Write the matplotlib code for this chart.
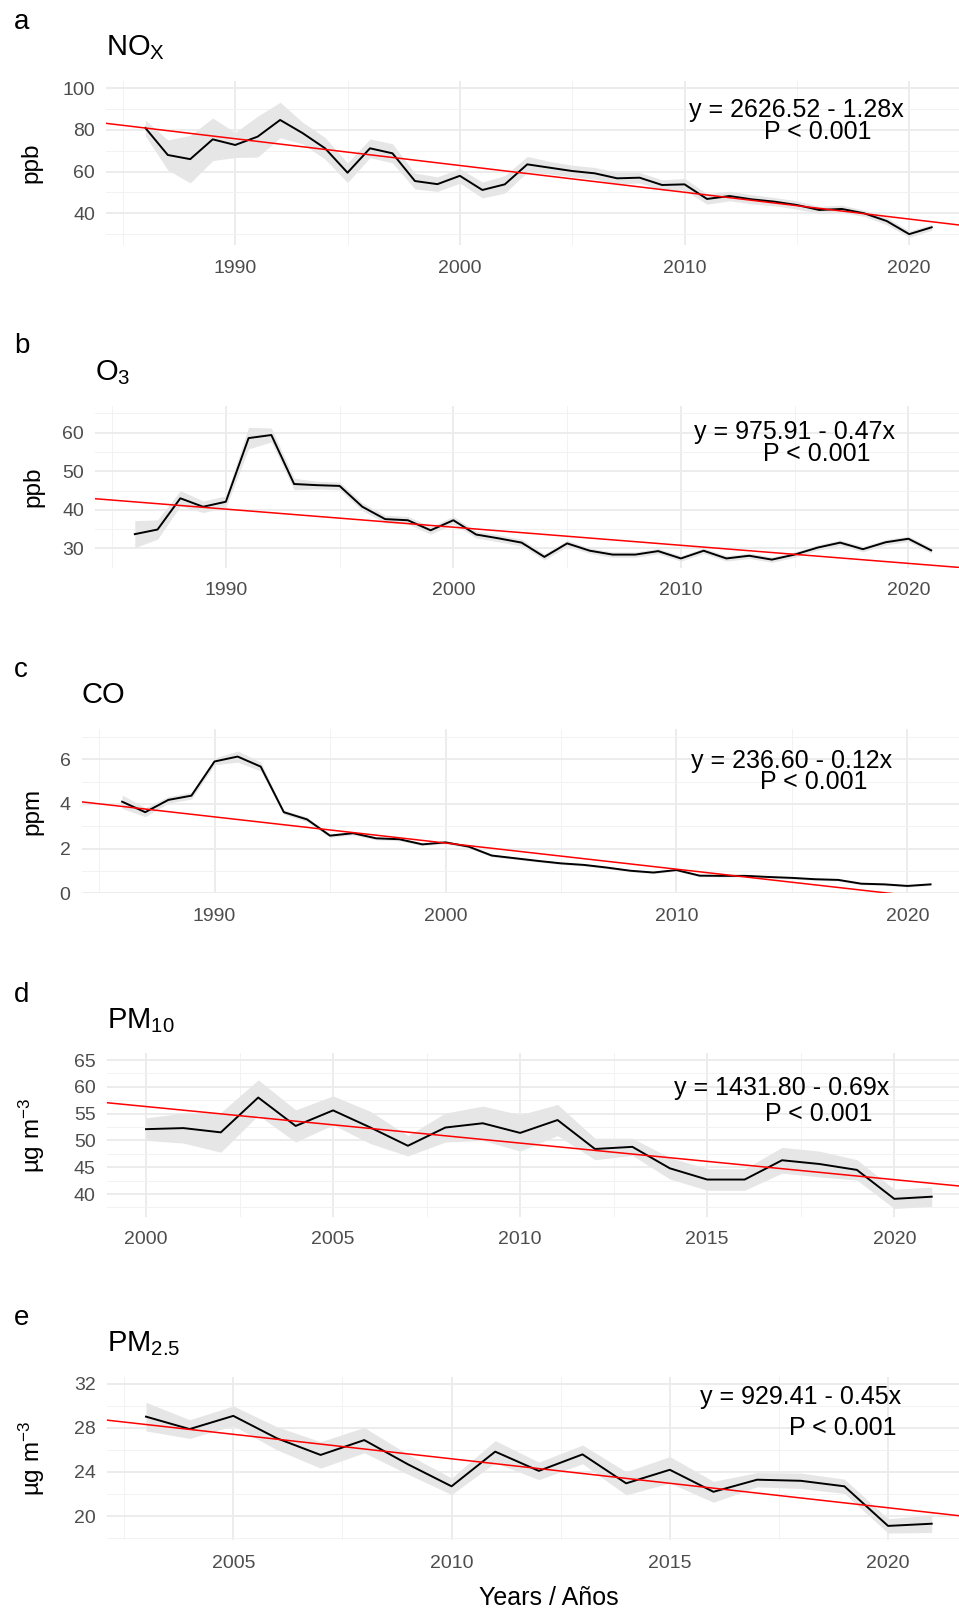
import numpy as np
import matplotlib
matplotlib.use('Agg')
import matplotlib.pyplot as plt
from matplotlib.ticker import MultipleLocator

plt.rcParams['font.family'] = ['Liberation Sans', 'DejaVu Sans']
plt.rcParams['mathtext.fontset'] = 'custom'
plt.rcParams['mathtext.rm'] = 'Liberation Sans'
plt.rcParams['mathtext.default'] = 'regular'

# annual means and ribbon half widths
years_long = list(range(1986, 2022))
years_pm10 = list(range(2000, 2022))
years_pm25 = list(range(2003, 2022))

nox = [81, 68, 66, 75.5, 72.8, 76.8, 84.8, 78.5, 71.2, 59.5, 71.2, 68.8, 55.5, 54, 58,
       51.2, 53.9, 63.5, 61.9, 60.3, 59.2, 56.8, 57.1, 53.6, 53.9, 46.9, 48.3, 46.7,
       45.6, 44, 41.6, 42.1, 40, 36.3, 30, 33.3]
nox_ci = [3.8, 7.2, 11.4, 10.2, 6, 9.8, 8.5, 5.2, 5.2, 4.7, 4.5, 4.6, 3.8, 3.5, 3.5,
          3.8, 4.2, 3.8, 3, 2.8, 2.8, 2.8, 2.5, 2.5, 2.8, 2.5, 2.3, 2.2, 2, 2, 1.8,
          1.8, 1.5, 1.8, 1.5, 1.4]

o3 = [33.7, 34.9, 43, 40.8, 42.1, 58.6, 59.4, 46.7, 46.4, 46.2, 40.8, 37.6, 37.3, 34.7,
      37.3, 33.6, 32.6, 31.5, 27.8, 31.3, 29.4, 28.4, 28.4, 29.3, 27.4, 29.4, 27.4,
      28.1, 27.1, 28.4, 30.2, 31.5, 29.8, 31.6, 32.5, 29.5]
o3_ci = [3.5, 2.5, 2, 1.5, 1.5, 2.8, 1.8, 1.5, 1, 1, 1, 1, 1, 1, 1, 0.9, 0.9, 0.9, 0.8,
         0.8, 0.7, 0.7, 0.7, 0.7, 0.7, 0.7, 0.7, 0.7, 0.7, 0.7, 0.7, 0.7, 0.7, 0.7,
         0.7, 0.7]

co = [4.1, 3.63, 4.18, 4.37, 5.9, 6.12, 5.67, 3.63, 3.31, 2.58, 2.69, 2.46, 2.42, 2.19,
      2.28, 2.09, 1.69, 1.57, 1.45, 1.34, 1.27, 1.15, 1.01, 0.93, 1.04, 0.79, 0.78,
      0.78, 0.73, 0.69, 0.63, 0.6, 0.43, 0.4, 0.33, 0.4]
co_ci = [0.3, 0.2, 0.15, 0.15, 0.15, 0.25, 0.2, 0.1, 0.1, 0.08, 0.08, 0.07, 0.07, 0.06,
         0.06, 0.06, 0.06, 0.05, 0.05, 0.05, 0.05, 0.05, 0.05, 0.05, 0.05, 0.05, 0.05,
         0.05, 0.05, 0.05, 0.05, 0.05, 0.05, 0.05, 0.05, 0.05]

pm10 = [52.1, 52.3, 51.5, 58.0, 52.7, 55.6, 52.4, 49.0, 52.4, 53.2, 51.4, 53.8, 48.4,
        48.8, 44.8, 42.7, 42.7, 46.3, 45.6, 44.5, 39.1, 39.5]
pm10_ci = [2.1, 2.8, 3.7, 3.3, 3, 2.7, 3, 1.9, 2.7, 3.2, 3.4, 2.9, 2, 1.6, 2, 2, 2, 2.4,
           2.4, 1.9, 1.8, 1.8]

pm25 = [29.03, 27.9, 29.1, 27.06, 25.55, 26.9, 24.7, 22.7, 25.85, 24.1, 25.6, 22.97,
        24.2, 22.2, 23.3, 23.2, 22.7, 19.1, 19.3]
pm25_ci = [1.3, 0.85, 0.9, 1.05, 1.2, 1.15, 0.9, 0.75, 1.0, 0.8, 0.85, 1.05, 1.2, 0.95,
           0.65, 0.7, 0.65, 0.65, 0.8]

# fitted trend lines as drawn: value at a reference year and slope per year
trend_year = [2000, 2000, 2000, 2010, 2010]
trend_value = [62.95, 35.5, 2.25, 49.5, 25.2]
trend_slope = [-1.285, -0.469, -0.117, -0.682, -0.445]

letters = ['a', 'b', 'c', 'd', 'e']
titles = ['NO$_X$', 'O$_3$', 'CO', 'PM$_{10}$', 'PM$_{2.5}$']
units = ['ppb', 'ppb', 'ppm', 'µg m$^{-3}$', 'µg m$^{-3}$']
eq_labels = ['y = 2626.52 - 1.28x', 'y = 975.91 - 0.47x', 'y = 236.60 - 0.12x',
             'y = 1431.80 - 0.69x', 'y = 929.41 - 0.45x']
p_label = 'P < 0.001'

series = [(years_long, nox, nox_ci), (years_long, o3, o3_ci), (years_long, co, co_ci),
          (years_pm10, pm10, pm10_ci), (years_pm25, pm25, pm25_ci)]

# layout in pixels of the 959x1609 image
W, H = 959, 1609
panels = [  # left, top, bottom
    (106, 81, 245),
    (95, 405.7, 567.7),
    (81.7, 729.3, 893.3),
    (106.7, 1053.3, 1216.7),
    (106.7, 1376.7, 1540),
]
right_px = 971
xlims = [(1984.25, 2022.75), (1984.25, 2022.75), (1984.25, 2022.75),
         (1998.95, 2022.05), (2002.1, 2021.9)]
ylims = [(24.8, 103.5), (25, 67), (0, 7.34), (35.77, 66.25), (17.82, 32.66)]
xsteps = [(10, 5), (10, 5), (10, 5), (5, 2.5), (5, 2.5)]
ysteps = [(20, 10), (10, 5), (2, 1), (5, 2.5), (4, 2)]
letter_y = [29.3, 353.3, 676.7, 1001.7, 1325]
title_y = [55, 380, 703.3, 1028.3, 1351.7]
ylabel_x = [42.5, 44, 43, 47, 47]
eq_xy = [(796.5, 110), (794, 432.5), (792, 760.7), (781.7, 1088.3), (800.5, 1396.7)]
p_xy = [(818, 131.7), (816.7, 454), (814, 781.7), (818.8, 1114.3), (843, 1428)]

fig = plt.figure(figsize=(W / 100, H / 100), dpi=100)

for i in range(5):
    L, T, B = panels[i]
    ax = fig.add_axes([L / W, 1 - B / H, (right_px - L) / W, (B - T) / H])
    yrs, vals, ci = series[i]
    yrs = np.array(yrs)
    vals = np.array(vals)
    ci = np.array(ci)

    ax.fill_between(yrs, vals - ci, vals + ci, color='#E6E6E6', lw=0, zorder=2)
    ax.plot(yrs, vals, color='black', lw=1.4, zorder=3)

    xx = np.array(xlims[i])
    ax.plot(xx, trend_value[i] + trend_slope[i] * (xx - trend_year[i]),
            color='red', lw=1.1, zorder=4)

    ax.set_xlim(*xlims[i])
    ax.set_ylim(*ylims[i])
    ax.xaxis.set_major_locator(MultipleLocator(xsteps[i][0]))
    ax.xaxis.set_minor_locator(MultipleLocator(xsteps[i][1]))
    ax.yaxis.set_major_locator(MultipleLocator(ysteps[i][0]))
    ax.yaxis.set_minor_locator(MultipleLocator(ysteps[i][1]))
    ax.grid(which='major', color='#EBEBEB', lw=1.3, zorder=0)
    ax.grid(which='minor', color='#F2F2F2', lw=0.7, zorder=0)
    ax.set_axisbelow(True)
    for s in ax.spines.values():
        s.set_visible(False)
    ax.tick_params(which='both', length=0, labelsize=14, labelcolor='#4D4D4D')
    ax.tick_params(axis='x', pad=10.5)
    ax.tick_params(axis='y', pad=8)

    ax.set_ylabel(units[i], fontsize=17.5)
    ax.yaxis.set_label_coords((ylabel_x[i] - L) / (right_px - L), 0.5)

    fig.text(14 / W, 1 - letter_y[i] / H, letters[i], fontsize=20, va='baseline')
    fig.text(L / W, 1 - title_y[i] / H, titles[i], fontsize=21, va='baseline')
    fig.text(eq_xy[i][0] / W, 1 - eq_xy[i][1] / H, eq_labels[i], fontsize=18,
             ha='center', va='center')
    fig.text(p_xy[i][0] / W, 1 - p_xy[i][1] / H, p_label, fontsize=18,
             ha='center', va='center')

fig.text(549 / W, 4 / H, 'Years / Años', fontsize=18, ha='center', va='baseline')

fig.savefig('out.png', dpi=100)
